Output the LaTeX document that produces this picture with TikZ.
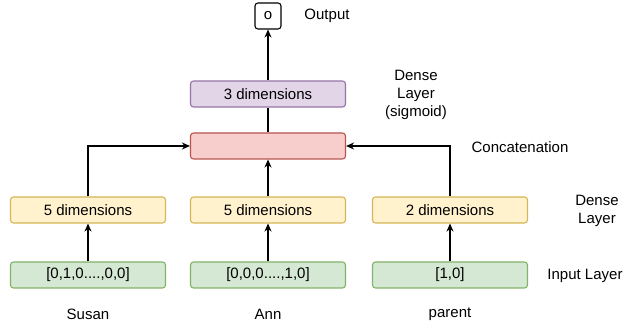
\documentclass[tikz,border=0pt]{standalone}
\usepackage{fontspec}
\setmainfont{Liberation Sans}
\usetikzlibrary{arrows.meta}
\definecolor{ylwF}{HTML}{FFF2CC}\definecolor{ylwD}{HTML}{D6B656}
\definecolor{grnF}{HTML}{D5E8D4}\definecolor{grnD}{HTML}{82B366}
\definecolor{redF}{HTML}{F8CECC}\definecolor{redD}{HTML}{B85450}
\definecolor{purF}{HTML}{E1D5E7}\definecolor{purD}{HTML}{9673A6}
\begin{document}
\begin{tikzpicture}[x=1pt,y=-1pt,
  font=\fontsize{15}{18}\selectfont,
  box/.style={draw, rounded corners=3pt, line width=1.1pt, minimum width=155pt, minimum height=26pt, inner sep=0pt},
  ybox/.style={box, fill=ylwF, draw=ylwD},
  gbox/.style={box, fill=grnF, draw=grnD},
  rbox/.style={box, fill=redF, draw=redD},
  pbox/.style={box, fill=purF, draw=purD},
  obox/.style={draw, rounded corners=3pt, line width=1.1pt, minimum width=26pt, minimum height=26pt, inner sep=0pt, fill=white},
  lbl/.style={align=center, inner sep=0pt},
  conn/.style={line width=1.1pt, -{Stealth[length=8pt,width=7pt,inset=2.5pt]}},
  plain/.style={line width=1.1pt}]
\useasboundingbox (0,0) rectangle (624,328);
% input layer
\node[gbox] (in1) at (88,275) {[0,1,0....,0,0]};
\node[gbox] (in2) at (268,275) {[0,0,0....,1,0]};
\node[gbox] (in3) at (450,275) {[1,0]};
% dense
\node[ybox] (d1) at (88,210) {5 dimensions};
\node[ybox] (d2) at (268,210) {5 dimensions};
\node[ybox] (d3) at (450,210) {2 dimensions};
% concat
\node[rbox] (cc) at (268,146) {};
% dense sigmoid
\node[pbox] (ds) at (268,94) {3 dimensions};
% output
\node[obox] (out) at (268,16) {o};
% labels
\node[lbl] (lout) at (327,16) {Output};
\node[lbl] (lds) at (416,95) {Dense\\Layer\\(sigmoid)};
\node[lbl] (lcc) at (520,147) {Concatenation};
\node[lbl] (ld) at (597,211) {Dense\\Layer};
\node[lbl] (lin) at (585,276) {Input Layer};
\node[lbl] (n1) at (88,314) {Susan};
\node[lbl] (n2) at (268,314) {Ann};
\node[lbl] (n3) at (450,314) {parent};
% connectors
\draw[conn] (in1) -- (d1);
\draw[conn] (in2) -- (d2);
\draw[conn] (in3) -- (d3);
\draw[conn] (d1.north) |- (cc.west);
\draw[conn] (d2) -- (cc);
\draw[conn] (d3.north) |- (cc.east);
\draw[plain] (cc) -- (ds);
\draw[conn] (ds) -- (out);
\end{tikzpicture}
\end{document}
